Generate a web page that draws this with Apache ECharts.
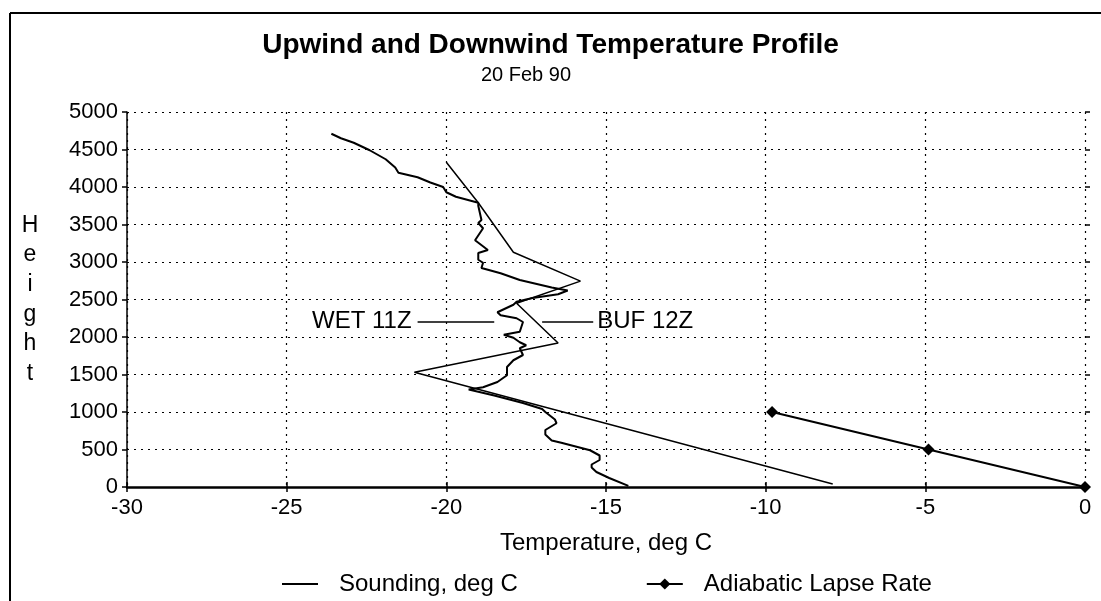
<!DOCTYPE html>
<html>
<head>
<meta charset="utf-8">
<script src="https://cdn.jsdelivr.net/npm/echarts@6/dist/echarts.min.js"></script>
<style>
  html, body { margin: 0; padding: 0; background: #fff; }
  #chart { width: 1101px; height: 601px; }
</style>
</head>
<body>
<div id="chart"></div>
<script>
// Temperature profile soundings, [temperature degC, height m]
const wet11z = [
  [-23.6, 4710], [-23.3, 4650], [-22.9, 4590], [-22.4, 4490], [-21.9, 4370],
  [-21.6, 4260], [-21.5, 4190], [-21.1, 4150], [-20.9, 4130], [-20.5, 4060],
  [-20.1, 4000], [-20.0, 3930], [-19.7, 3870], [-19.0, 3790], [-19.0, 3750],
  [-18.9, 3560], [-19.0, 3520], [-18.85, 3450], [-19.1, 3290], [-18.7, 3160],
  [-19.0, 3120], [-19.0, 3030], [-18.85, 2990], [-18.9, 2920], [-18.3, 2850],
  [-17.7, 2760], [-16.7, 2660], [-16.2, 2620], [-16.5, 2570], [-17.3, 2520],
  [-17.8, 2470], [-17.9, 2430], [-18.4, 2330], [-18.3, 2290], [-17.8, 2250],
  [-17.6, 2200], [-17.7, 2070], [-18.2, 2030], [-17.9, 1990], [-17.7, 1930],
  [-17.5, 1890], [-17.7, 1850], [-17.6, 1760], [-17.9, 1690], [-18.1, 1600],
  [-18.1, 1490], [-18.4, 1400], [-18.85, 1330], [-19.3, 1300], [-18.5, 1220],
  [-17.6, 1120], [-17.0, 1040], [-16.9, 1000], [-16.6, 900], [-16.55, 850],
  [-16.9, 760], [-16.9, 700], [-16.7, 620], [-16.4, 590], [-15.5, 490],
  [-15.2, 420], [-15.2, 360], [-15.45, 300], [-15.45, 260], [-15.3, 200],
  [-14.9, 120], [-14.3, 15]
];
const buf12z = [
  [-20.0, 4330], [-19.0, 3790], [-17.9, 3130], [-15.8, 2745], [-17.8, 2450],
  [-16.5, 1920], [-21.0, 1530], [-7.9, 40]
];
const adiabatic = [[0, 0], [-4.9, 500], [-9.8, 1000]];

const xTicks = { min: -30, max: 0, interval: 5 };
const yTicks = { min: 0, max: 5000, interval: 500 };

const FONT = '"Liberation Sans", Arial, sans-serif';
const chart = echarts.init(document.getElementById('chart'), null, { renderer: 'canvas' });

const dotted = { color: '#000', width: 1.2, type: [2, 5] };
const axisText = { color: '#000', fontSize: 22, fontFamily: FONT };
const plain = v => String(v);

chart.setOption({
  backgroundColor: '#fff',
  animation: false,
  textStyle: { fontFamily: FONT, color: '#000' },
  title: [
    { text: 'Upwind and Downwind Temperature Profile', left: 'center', top: 26,
      textStyle: { fontSize: 28, fontWeight: 'bold', color: '#000', fontFamily: FONT } },
    { text: '20 Feb 90', left: 521, top: 60, textAlign: 'center',
      textStyle: { fontSize: 20, fontWeight: 'normal', color: '#000', fontFamily: FONT } }
  ],
  legend: {
    top: 567, left: 277, itemWidth: 36, itemHeight: 14, itemGap: 128,
    textStyle: { fontSize: 24, color: '#000', fontFamily: FONT, padding: [0, 0, 0, 16] },
    data: [
      { name: 'Sounding, deg C', icon: 'path://M0,6L36,6L36,8L0,8Z' },
      { name: 'Adiabatic Lapse Rate' }
    ]
  },
  grid: { left: 127, right: 16, top: 112, bottom: 114 },
  xAxis: [{
    type: 'value', min: xTicks.min, max: xTicks.max, interval: xTicks.interval,
    name: 'Temperature, deg C', nameLocation: 'middle', nameGap: 44,
    nameTextStyle: { fontSize: 24, color: '#000', fontFamily: FONT },
    axisLine: { onZero: false, lineStyle: { color: '#000', width: 2.5 } },
    axisTick: { show: true, length: 5, lineStyle: { color: '#000', width: 1.5 } },
    axisLabel: Object.assign({ margin: 10, formatter: plain }, axisText),
    splitLine: { show: true, lineStyle: dotted }
  }, {
    type: 'value', min: xTicks.min, max: xTicks.max, interval: xTicks.interval,
    position: 'bottom', axisLine: { show: false }, axisLabel: { show: false },
    axisTick: { show: true, inside: true, length: 5, lineStyle: { color: '#000', width: 1.5 } },
    splitLine: { show: false }
  }],
  yAxis: [{
    type: 'value', min: yTicks.min, max: yTicks.max, interval: yTicks.interval,
    name: 'H\ne\ni\ng\nh\nt', nameLocation: 'middle', nameGap: 97, nameRotate: 0,
    nameTextStyle: { fontSize: 23, color: '#000', fontFamily: FONT, lineHeight: 29.6, align: 'center' },
    axisLine: { onZero: false, lineStyle: { color: '#000', width: 1.5 } },
    axisTick: { show: true, length: 5, lineStyle: { color: '#000', width: 1.5 } },
    axisLabel: Object.assign({ margin: 9, formatter: plain }, axisText),
    splitLine: { show: true, lineStyle: dotted }
  }, {
    type: 'value', min: yTicks.min, max: yTicks.max, interval: yTicks.interval,
    position: 'left', axisLine: { show: false }, axisLabel: { show: false },
    axisTick: { show: true, inside: true, length: 5, lineStyle: { color: '#000', width: 1.5 } },
    splitLine: { show: false }
  }],
  series: [
    {
      name: 'Sounding, deg C', type: 'line', data: wet11z, symbol: 'none',
      lineStyle: { color: '#000', width: 2 }, itemStyle: { color: '#000' },
      markLine: {
        silent: true, symbol: ['none', 'none'],
        lineStyle: { color: '#000', width: 1.5, type: 'solid' },
        label: { show: true, position: 'start', formatter: 'WET 11Z', fontSize: 24,
                 color: '#000', fontFamily: FONT, distance: 6 },
        data: [[{ coord: [-20.9, 2210] }, { coord: [-18.5, 2210] }]]
      }
    },
    {
      name: 'Sounding, deg C', type: 'line', data: buf12z, symbol: 'none',
      lineStyle: { color: '#000', width: 1.5 }, itemStyle: { color: '#000' },
      markLine: {
        silent: true, symbol: ['none', 'none'],
        lineStyle: { color: '#000', width: 1.5, type: 'solid' },
        label: { show: true, position: 'end', formatter: 'BUF 12Z', fontSize: 24,
                 color: '#000', fontFamily: FONT, distance: 4 },
        data: [[{ coord: [-17.0, 2210] }, { coord: [-15.4, 2210] }]]
      }
    },
    {
      name: 'Adiabatic Lapse Rate', type: 'line', data: adiabatic,
      symbol: 'diamond', symbolSize: 12,
      lineStyle: { color: '#000', width: 2 }, itemStyle: { color: '#000' }
    }
  ],
  graphic: [
    { type: 'line', shape: { x1: 10, y1: 13, x2: 1101, y2: 13 }, style: { stroke: '#000', lineWidth: 2 } },
    { type: 'line', shape: { x1: 10, y1: 13, x2: 10, y2: 601 }, style: { stroke: '#000', lineWidth: 2 } }
  ]
});
</script>
</body>
</html>
